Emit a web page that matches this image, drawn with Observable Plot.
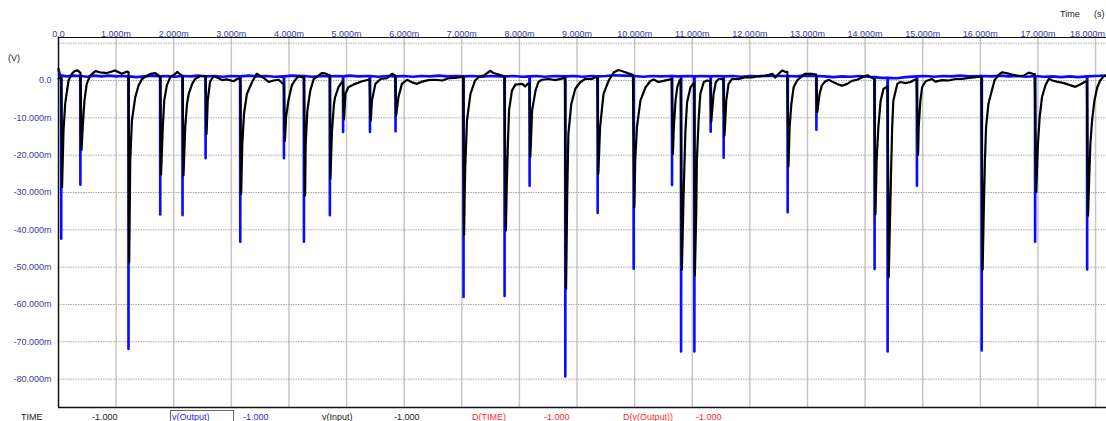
<!DOCTYPE html>
<html>
<head>
<meta charset="utf-8">
<script src="https://cdn.jsdelivr.net/npm/d3@7"></script>
<script src="https://cdn.jsdelivr.net/npm/@observablehq/plot@0.6"></script>
<style>
  body { margin: 0; background: #fff; }
  #wrap { position: relative; width: 1106px; height: 421px; overflow: hidden;
          font-family: "Liberation Sans", Arial, sans-serif; }
  #wrap svg { display: block; }
  .lbl { position: absolute; font-size: 9px; line-height: 9px; white-space: nowrap; color: #222; }
  .blue { color: #1f1fff; }
  .red { color: #ff2a2a; }
  .cursor-box { position: absolute; left: 170px; top: 410px; width: 64px; height: 20px;
                border: 1px solid #666; box-sizing: border-box; }
</style>
</head>
<body>
<div id="wrap"></div>
<script>
// Time axis (ms) and voltage axis (mV)
const timeTicks = d3.range(0, 19);                  // 0.0 … 18.000m
const voltGrid = [10, 0, -10, -20, -30, -40, -50, -60, -70, -80];
const voltTicks = [0, -10, -20, -30, -40, -50, -60, -70, -80];
const timeDomain = [0, 18.19];
const voltDomain = [-87.6, 11.52];

// v(Output): flat trace with sharp negative spikes  [time ms, mV]
const outputTrace = [
  [0.000, 3.1], [0.015, 2.0], [0.030, 1.4], [0.044, 1.3], [0.047, -42.4], [0.050, 1.3],
  [0.15, 1.1], [0.26, 1.3], [0.377, 1.2], [0.380, -27.9], [0.383, 1.2],
  [0.50, 1.0], [0.62, 1.3], [0.75, 1.1], [0.88, 1.3], [1.00, 1.1], [1.10, 1.2],
  [1.212, 1.1], [1.215, -71.9], [1.218, 1.1],
  [1.35, 0.9], [1.50, 1.1], [1.63, 1.3], [1.763, 1.1], [1.766, -35.9], [1.769, 1.1],
  [1.90, 1.2], [2.02, 1.0], [2.150, 1.2], [2.153, -36.1], [2.156, 1.2],
  [2.30, 1.1], [2.42, 1.3], [2.550, 1.1], [2.553, -20.8], [2.556, 1.1],
  [2.70, 1.2], [2.85, 1.0], [3.00, 1.2], [3.152, 1.1], [3.155, -43.2], [3.158, 1.1],
  [3.30, 1.3], [3.45, 1.1], [3.60, 1.2], [3.75, 1.0], [3.910, 1.1], [3.913, -20.8], [3.916, 1.1],
  [4.05, 1.3], [4.257, 1.2], [4.260, -43.2], [4.263, 1.2],
  [4.40, 1.0], [4.55, 1.2], [4.707, 1.1], [4.710, -36.1], [4.713, 1.1],
  [4.82, 1.2], [4.937, 1.1], [4.940, -13.8], [4.943, 1.1],
  [5.05, 1.3], [5.20, 1.1], [5.403, 1.2], [5.406, -13.8], [5.409, 1.2],
  [5.55, 1.0], [5.70, 1.2], [5.847, 1.1], [5.850, -13.6], [5.853, 1.1],
  [6.00, 1.2], [6.15, 1.0], [6.30, 1.2], [6.45, 1.1], [6.60, 1.3], [6.75, 1.1], [6.90, 1.2],
  [7.027, 1.1], [7.030, -58.0], [7.033, 1.1],
  [7.20, 1.2], [7.35, 1.0], [7.50, 1.2], [7.65, 1.1], [7.740, 1.1], [7.743, -57.7], [7.746, 1.1],
  [7.90, 1.2], [8.05, 1.0], [8.174, 1.1], [8.177, -28.2], [8.180, 1.1],
  [8.30, 1.2], [8.45, 1.0], [8.60, 1.2], [8.794, 1.1], [8.797, -79.3], [8.800, 1.1],
  [8.95, 1.2], [9.10, 1.0], [9.25, 1.2], [9.355, 1.1], [9.358, -35.5], [9.361, 1.1],
  [9.50, 1.2], [9.65, 1.4], [9.80, 1.3], [9.980, 1.2], [9.983, -50.4], [9.986, 1.2],
  [10.15, 1.0], [10.30, 1.2], [10.45, 1.1], [10.646, 1.2], [10.649, -28.0], [10.652, 1.2],
  [10.73, 1.1], [10.803, 1.1], [10.806, -72.6], [10.809, 1.1],
  [10.92, 1.2], [11.034, 1.1], [11.037, -72.6], [11.040, 1.1],
  [11.18, 1.2], [11.317, 1.1], [11.320, -13.7], [11.323, 1.1],
  [11.43, 1.2], [11.542, 1.1], [11.545, -20.7], [11.548, 1.1],
  [11.70, 1.2], [11.85, 1.0], [12.00, 1.2], [12.15, 1.1], [12.30, 1.3], [12.45, 1.2],
  [12.653, 1.2], [12.656, -35.3], [12.659, 1.2],
  [12.80, 1.1], [12.95, 1.3], [13.152, 1.2], [13.155, -13.2], [13.158, 1.2],
  [13.30, 1.1], [13.45, 0.9], [13.60, 1.1], [13.75, 1.0], [13.90, 1.2], [14.05, 1.0],
  [14.162, 0.9], [14.165, -50.5], [14.168, 0.9],
  [14.28, 0.7], [14.388, 0.7], [14.391, -72.6], [14.394, 0.7],
  [14.55, 0.6], [14.70, 0.9], [14.897, 1.1], [14.900, -28.2], [14.903, 1.1],
  [15.05, 1.2], [15.20, 1.0], [15.35, 1.2], [15.50, 1.1], [15.65, 1.3], [15.80, 1.1],
  [16.021, 1.2], [16.024, -72.3], [16.027, 1.2],
  [16.20, 1.1], [16.35, 1.3], [16.50, 1.1], [16.65, 1.2], [16.80, 1.0],
  [16.948, 1.2], [16.951, -43.2], [16.954, 1.2],
  [17.10, 1.0], [17.25, 1.1], [17.40, 0.9], [17.55, 1.1], [17.70, 0.9],
  [17.851, 1.1], [17.854, -50.6], [17.857, 1.1],
  [18.00, 1.2], [18.19, 1.3]
];

// v(Input): noisy trace, dips with slow recovery  [time ms, mV]
const inputTrace = [
  [0.000, 0.5], [0.030, 0.8], [0.048, 0.6],
  [0.062, -28.6], [0.087, -13.4], [0.116, -6.2], [0.174, 0.0], [0.232, 1.8], [0.28, 2.5], [0.33, 2.7], [0.37, 2.2],
  [0.382, 2.0], [0.400, -18.6], [0.42, -12.5], [0.45, -5.4], [0.49, -0.9], [0.55, 1.3], [0.64, 2.5],
  [0.72, 2.2], [0.84, 2.0], [0.98, 2.7], [1.10, 1.8], [1.19, 2.4],
  [1.216, 2.2], [1.227, -48.7], [1.245, -21.4], [1.274, -10.7], [1.332, -4.5], [1.39, -1.3], [1.45, 0.4],
  [1.535, 1.3], [1.60, 1.8], [1.68, 2.0], [1.74, 1.3],
  [1.767, 1.1], [1.780, -25.2], [1.81, -12.5], [1.835, -5.4], [1.88, -1.3], [1.94, 0.9], [2.03, 1.8], [2.06, 2.3], [2.14, 1.3],
  [2.154, 1.2], [2.170, -25.4], [2.20, -12.5], [2.23, -6.3], [2.26, -3.6], [2.32, -0.9], [2.37, 0.4], [2.46, 1.2], [2.53, 1.2],
  [2.554, 1.1], [2.570, -14.3], [2.59, -5.4], [2.63, -0.4], [2.69, 1.2], [2.78, 0.6], [2.84, 0.1], [2.92, 0.3],
  [3.04, -0.2], [3.10, 0.4], [3.15, 0.6],
  [3.156, 0.6], [3.170, -30.4], [3.19, -17.0], [3.22, -8.9], [3.27, -3.6], [3.36, -0.4], [3.44, 1.8], [3.50, 1.2],
  [3.56, 0.7], [3.65, -0.4], [3.73, 0.0], [3.82, 0.2], [3.89, -0.8],
  [3.914, -0.8], [3.930, -16.1], [3.95, -9.8], [3.99, -5.4], [4.05, -1.3], [4.11, 0.2], [4.17, 1.2], [4.22, 0.9], [4.255, 0.9],
  [4.261, 0.9], [4.280, -30.8], [4.29, -17.0], [4.32, -8.0], [4.37, -2.7], [4.43, 0.4], [4.51, 1.3], [4.57, 2.0], [4.63, 1.9], [4.69, 1.5],
  [4.711, 1.4], [4.720, -26.3], [4.745, -14.0], [4.78, -6.5], [4.80, -4.5], [4.86, -1.8], [4.92, -0.4], [4.938, -0.3],
  [4.955, -10.4], [4.98, -3.6], [5.03, -1.8], [5.15, -0.9], [5.27, -0.2], [5.38, 0.2], [5.40, 0.3],
  [5.420, -10.7], [5.44, -5.4], [5.50, -0.9], [5.59, 0.4], [5.70, 0.6], [5.79, 1.8], [5.845, 1.3],
  [5.860, -9.4], [5.90, -4.5], [5.96, -0.9], [6.05, 0.2], [6.14, -0.5], [6.22, -0.9], [6.31, -0.3], [6.42, 0.1],
  [6.54, 0.2], [6.66, 0.0], [6.77, 0.6], [6.89, 0.7], [6.97, 0.9], [7.025, 0.9],
  [7.040, -41.3], [7.05, -30.4], [7.06, -23.2], [7.09, -10.7], [7.15, -3.6], [7.23, 0.0], [7.32, 1.2], [7.38, 1.3],
  [7.44, 2.0], [7.50, 2.6], [7.55, 2.0], [7.64, 1.6], [7.70, 1.3], [7.74, 1.1],
  [7.765, -40.2], [7.78, -28.6], [7.80, -17.0], [7.82, -8.0], [7.87, -2.7], [7.93, -1.1], [8.05, -0.9], [8.10, -1.6], [8.15, -0.8], [8.175, -0.8],
  [8.190, -20.4], [8.22, -8.0], [8.28, -2.7], [8.33, -0.4], [8.39, 0.2], [8.51, 0.4], [8.62, 0.1], [8.74, 0.5], [8.79, 0.8],
  [8.810, -55.8], [8.83, -30.4], [8.85, -14.3], [8.90, -6.3], [8.97, -2.2], [9.06, -0.4], [9.14, 0.4], [9.26, 0.4], [9.32, 0.9], [9.355, 0.8],
  [9.370, -25.0], [9.40, -12.5], [9.46, -3.6], [9.55, 0.0], [9.64, 2.2], [9.72, 2.8], [9.80, 2.4], [9.89, 1.9], [9.97, 1.5],
  [9.995, -33.9], [10.01, -21.4], [10.04, -12.5], [10.10, -5.4], [10.19, -1.8], [10.27, -0.2], [10.33, 0.3], [10.41, -0.4],
  [10.50, -0.1], [10.56, 0.1], [10.62, 0.3], [10.645, 0.3],
  [10.665, -19.6], [10.68, -12.5], [10.71, -5.4], [10.74, -1.8], [10.78, 0.0], [10.80, 0.2],
  [10.820, -50.7], [10.85, -30.4], [10.88, -14.0], [10.91, -5.8], [10.97, -1.8], [11.02, -0.8], [11.035, -0.6],
  [11.045, -52.2], [11.07, -34.8], [11.08, -21.4], [11.11, -10.7], [11.14, -3.6], [11.20, -0.4], [11.26, 0.0], [11.315, -0.2],
  [11.330, -11.0], [11.37, -3.6], [11.41, -0.4], [11.46, 0.4], [11.52, 0.4], [11.54, 0.4],
  [11.560, -14.7], [11.59, -5.4], [11.63, -0.9], [11.69, 0.4], [11.81, 0.4], [11.92, 0.9], [12.04, 0.8], [12.15, 1.2],
  [12.27, 1.2], [12.39, 1.8], [12.44, 0.8], [12.50, 1.8], [12.56, 2.7], [12.62, 2.3], [12.65, 2.3],
  [12.670, -23.0], [12.69, -12.5], [12.72, -6.3], [12.76, -1.8], [12.82, 0.0], [12.91, 1.3], [12.96, 1.8], [13.08, 1.8], [13.15, 1.6],
  [13.170, -8.5], [13.21, -3.6], [13.25, -1.3], [13.31, -0.2], [13.37, 0.2], [13.43, -0.3], [13.51, -0.9], [13.60, -1.4],
  [13.69, -0.9], [13.77, -0.1], [13.86, 0.2], [13.95, 0.9], [14.04, 1.4], [14.10, 0.9], [14.16, 0.4],
  [14.180, -35.9], [14.20, -21.4], [14.23, -12.5], [14.27, -5.4], [14.32, -2.2], [14.37, -1.8], [14.39, -1.5],
  [14.410, -52.7], [14.45, -25.0], [14.47, -12.5], [14.49, -5.4], [14.53, -2.8], [14.56, -0.9], [14.61, -0.4],
  [14.70, -0.7], [14.79, -0.4], [14.86, 0.2], [14.895, 0.2],
  [14.920, -19.9], [14.93, -12.5], [14.96, -5.4], [14.99, -1.8], [15.05, -0.2], [15.16, 0.4], [15.22, -0.3], [15.34, 0.1],
  [15.45, 0.0], [15.57, 0.4], [15.68, 0.4], [15.80, 0.7], [15.92, 0.9], [16.02, 1.0],
  [16.040, -50.7], [16.06, -34.8], [16.08, -21.4], [16.10, -12.5], [16.14, -6.3], [16.20, -2.7], [16.25, 0.2], [16.34, 1.8],
  [16.38, 2.2], [16.47, 1.9], [16.55, 1.6], [16.67, 1.2], [16.75, 1.3], [16.84, 2.1], [16.91, 1.8], [16.945, 1.7],
  [16.970, -29.9], [17.00, -17.0], [17.03, -9.8], [17.07, -4.5], [17.13, -1.3], [17.19, 0.5], [17.25, 0.0], [17.33, -0.3],
  [17.45, -0.7], [17.57, -1.3], [17.65, -1.7], [17.74, -1.0], [17.82, -0.3], [17.85, -0.3],
  [17.870, -36.2], [17.89, -25.9], [17.91, -17.0], [17.94, -10.7], [17.98, -5.4], [18.03, -1.8], [18.08, 0.0], [18.14, 1.1], [18.19, 1.3]
];

// Cursor readout row under the plot
const readoutRow = [
  { text: "TIME", left: 21, cls: "" },
  { text: "-1.000", left: 92, cls: "" },
  { text: "v(Output)", left: 172, cls: "blue" },
  { text: "-1.000", left: 243, cls: "blue" },
  { text: "v(Input)", left: 322, cls: "" },
  { text: "-1.000", left: 394, cls: "" },
  { text: "D(TIME)", left: 472, cls: "red" },
  { text: "-1.000", left: 544, cls: "red" },
  { text: "D(v(Output))", left: 623, cls: "red" },
  { text: "-1.000", left: 696, cls: "red" }
];

const fmtTime = t => t === 0 ? "0.0" : t.toFixed(3) + "m";
const fmtVolt = v => v === 0 ? "0.0" : v.toFixed(3) + "m";
const axisColor = "#3b3b9f";
const lastTick = timeTicks[timeTicks.length - 1];

const chart = Plot.plot({
  width: 1106,
  height: 421,
  marginTop: 37,
  marginBottom: 14,
  marginLeft: 58,
  marginRight: 0,
  style: { fontFamily: "'Liberation Sans', Arial, sans-serif", fontSize: "9px", background: "#fff" },
  x: { domain: timeDomain },
  y: { domain: voltDomain },
  marks: [
    Plot.ruleX(timeTicks.slice(1), { stroke: "#c6c6c6", strokeWidth: 1.5 }),
    Plot.ruleY(voltGrid, { stroke: "#a9a9a9", strokeWidth: 1, strokeDasharray: "1.5,1" }),
    Plot.line(outputTrace, { x: d => d[0], y: d => d[1], stroke: "#0a0aff", strokeWidth: 2.6 }),
    Plot.line(inputTrace, { x: d => d[0], y: d => d[1], stroke: "#000", strokeWidth: 2.2 }),
    Plot.ruleY([voltDomain[1]], { stroke: "#111", strokeWidth: 1.2 }),
    Plot.ruleY([voltDomain[0]], { stroke: "#111", strokeWidth: 1.5 }),
    Plot.ruleX([0], { stroke: "#111", strokeWidth: 1.5 }),
    Plot.axisX(timeTicks.slice(0, -1), { anchor: "top", tickSize: 0, tickPadding: 1, tickFormat: fmtTime, color: axisColor, label: null }),
    // last label sits against the right edge, so it is nudged left
    Plot.axisX([lastTick], { anchor: "top", tickSize: 0, tickPadding: 1, tickFormat: fmtTime, color: axisColor, label: null, dx: -8 }),
    Plot.axisY(voltTicks, { anchor: "left", tickSize: 0, tickPadding: 7, tickFormat: fmtVolt, color: axisColor, label: null })
  ]
});

const wrap = document.getElementById("wrap");
wrap.appendChild(chart);

function addLabel(text, left, top, cls) {
  const el = document.createElement("div");
  el.className = "lbl" + (cls ? " " + cls : "");
  el.style.left = left + "px";
  el.style.top = top + "px";
  el.textContent = text;
  wrap.appendChild(el);
}

addLabel("(V)", 8, 54, "");
addLabel("Time", 1060, 10, "");
addLabel("(s)", 1094, 10, "");

const box = document.createElement("div");
box.className = "cursor-box";
wrap.appendChild(box);
for (const r of readoutRow) addLabel(r.text, r.left, 413, r.cls);
</script>
</body>
</html>
